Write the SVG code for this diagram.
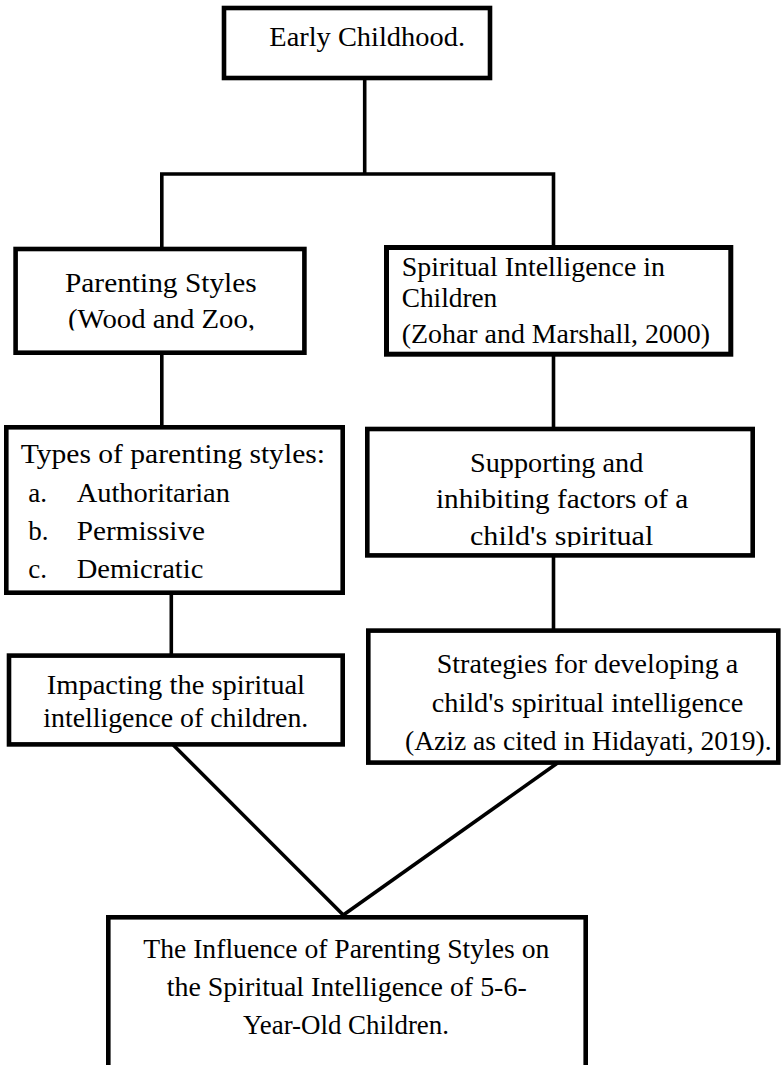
<svg xmlns="http://www.w3.org/2000/svg" width="784" height="1065" viewBox="0 0 784 1065">
<style>
.box{fill:#fff;stroke:#000;stroke-width:4.6;stroke-linejoin:miter}
.ln{fill:none;stroke:#000;stroke-width:3.6;stroke-linecap:butt}
text{font-family:"Liberation Serif","Times New Roman",serif;font-size:27px;fill:#000}
</style>
<defs>
<clipPath id="clipWood"><rect x="0" y="240" width="320" height="90.5"/></clipPath>
<clipPath id="clipChild"><rect x="360" y="420" width="400" height="127"/></clipPath>
</defs>
<rect width="784" height="1065" fill="#fff"/>
<g id="connectors">
<line class="ln" x1="364.7" y1="78" x2="364.7" y2="174"/>
<polyline class="ln" points="161.8,249 161.8,174 553.5,174 553.5,248"/>
<line class="ln" x1="161.8" y1="352" x2="161.8" y2="428"/>
<line class="ln" x1="553.5" y1="354" x2="553.5" y2="429"/>
<line class="ln" x1="171.3" y1="593" x2="171.3" y2="656"/>
<line class="ln" x1="553.5" y1="555" x2="553.5" y2="631"/>
<line class="ln" x1="173.3" y1="745" x2="343.3" y2="915"/>
<line class="ln" x1="557.5" y1="763" x2="343.3" y2="915"/>
</g>
<g id="node-early-childhood">
<rect class="box" x="224" y="8" width="266" height="70"/>
<text x="269.3" y="46.3" textLength="195.7" lengthAdjust="spacingAndGlyphs">Early Childhood.</text>
</g>
<g id="node-parenting-styles">
<rect class="box" x="15.6" y="249" width="288.8" height="103.7"/>
<text x="65" y="291.7" textLength="191.7" lengthAdjust="spacingAndGlyphs">Parenting Styles</text>
<text x="68" y="328" textLength="187" lengthAdjust="spacingAndGlyphs" clip-path="url(#clipWood)">(Wood and Zoo,</text>
</g>
<g id="node-spiritual-intelligence">
<rect class="box" x="386.5" y="247.5" width="344.3" height="106.7" style="stroke-width:5"/>
<text x="401.7" y="276" textLength="263.3" lengthAdjust="spacingAndGlyphs">Spiritual Intelligence in</text>
<text x="401.7" y="306.7" textLength="95.6" lengthAdjust="spacingAndGlyphs">Children</text>
<text x="401.7" y="343.3" textLength="308.3" lengthAdjust="spacingAndGlyphs">(Zohar and Marshall, 2000)</text>
</g>
<g id="node-types">
<rect class="box" x="6.3" y="427.3" width="336.4" height="165.4"/>
<text x="20.7" y="463.3" textLength="304.3" lengthAdjust="spacingAndGlyphs">Types of parenting styles:</text>
<text x="28.3" y="501.7">a.</text>
<text x="76.7" y="501.7" textLength="153.3" lengthAdjust="spacingAndGlyphs">Authoritarian</text>
<text x="28.3" y="540">b.</text>
<text x="76.7" y="540" textLength="128.3" lengthAdjust="spacingAndGlyphs">Permissive</text>
<text x="28.3" y="577.5">c.</text>
<text x="76.7" y="577.5" textLength="126.6" lengthAdjust="spacingAndGlyphs">Demicratic</text>
</g>
<g id="node-supporting">
<rect class="box" x="367.3" y="429" width="385.4" height="126.4"/>
<text x="470" y="471.7" textLength="173.3" lengthAdjust="spacingAndGlyphs">Supporting and</text>
<text x="436" y="508.3" textLength="252.3" lengthAdjust="spacingAndGlyphs">inhibiting factors of a</text>
<text x="470" y="545" textLength="183.3" lengthAdjust="spacingAndGlyphs" clip-path="url(#clipChild)">child's spiritual</text>
</g>
<g id="node-impacting">
<rect class="box" x="9" y="655.6" width="333.7" height="88.8"/>
<text x="46.7" y="694" textLength="258.3" lengthAdjust="spacingAndGlyphs">Impacting the spiritual</text>
<text x="43.3" y="726.7" textLength="265" lengthAdjust="spacingAndGlyphs">intelligence of children.</text>
</g>
<g id="node-strategies">
<rect class="box" x="368.3" y="630.6" width="410" height="132"/>
<text x="436.7" y="673.3" textLength="301.6" lengthAdjust="spacingAndGlyphs">Strategies for developing a</text>
<text x="431.7" y="711.7" textLength="311.6" lengthAdjust="spacingAndGlyphs">child's spiritual intelligence</text>
<text x="405" y="750" textLength="366.7" lengthAdjust="spacingAndGlyphs">(Aziz as cited in Hidayati, 2019).</text>
</g>
<g id="node-influence">
<rect class="box" x="108.3" y="917.3" width="477.4" height="200"/>
<text x="143.3" y="958.3" textLength="406" lengthAdjust="spacingAndGlyphs">The Influence of Parenting Styles on</text>
<text x="166.7" y="996" textLength="360" lengthAdjust="spacingAndGlyphs">the Spiritual Intelligence of 5-6-</text>
<text x="243" y="1034" textLength="206" lengthAdjust="spacingAndGlyphs">Year-Old Children.</text>
</g>
</svg>
